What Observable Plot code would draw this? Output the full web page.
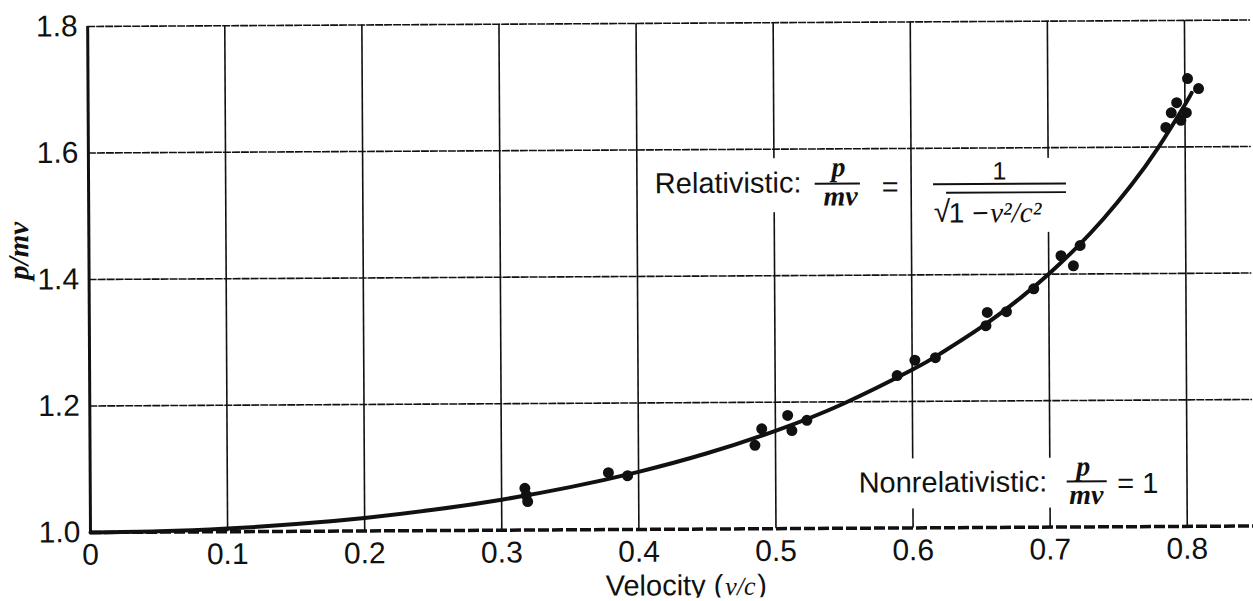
<!DOCTYPE html>
<html>
<head>
<meta charset="utf-8">
<script src="https://cdn.jsdelivr.net/npm/d3@7"></script>
<script src="https://cdn.jsdelivr.net/npm/@observablehq/plot@0.6"></script>
<style>
  html, body { margin: 0; padding: 0; background: #fff; overflow: hidden; }
  #chart svg { display: block; transform: rotate(-0.32deg); transform-origin: 90px 532px; }
</style>
</head>
<body>
<div id="chart"></div>
<script>
// ---- Data ----
// Measured points (velocity v/c, p/mv)
const measuredV = [0.317, 0.318, 0.319, 0.378, 0.392, 0.485, 0.490, 0.509, 0.512, 0.523,
                   0.589, 0.602, 0.617, 0.654, 0.655, 0.669, 0.689, 0.709, 0.718, 0.723,
                   0.786, 0.790, 0.794, 0.797, 0.801, 0.802, 0.810];
const measuredP = [1.066, 1.055, 1.045, 1.090, 1.085, 1.132, 1.158, 1.179, 1.155, 1.171,
                   1.241, 1.265, 1.269, 1.319, 1.340, 1.341, 1.377, 1.429, 1.413, 1.445,
                   1.631, 1.654, 1.670, 1.642, 1.654, 1.708, 1.692];
// Relativistic curve, sampled along the drawn line
const curveV = [0, 0.05, 0.1, 0.15, 0.2, 0.25, 0.3, 0.35, 0.4, 0.45, 0.5, 0.55, 0.6, 0.62,
                0.65, 0.68, 0.7, 0.72, 0.74, 0.76, 0.78, 0.8, 0.805];
const curveP = [1.0, 1.00125, 1.00504, 1.01144, 1.02062, 1.0328, 1.04828, 1.06752, 1.09109,
                1.11979, 1.1547, 1.19737, 1.25, 1.27453, 1.3159, 1.36386, 1.40028, 1.44098,
                1.48675, 1.53864, 1.59801, 1.66667, 1.6855];
// Nonrelativistic value
const nonRelP = [1.0];
// Axis ticks
const xTicks = [0, 0.1, 0.2, 0.3, 0.4, 0.5, 0.6, 0.7, 0.8];
const yTicks = [1.0, 1.2, 1.4, 1.6, 1.8];
const xGrid = [0.1, 0.2, 0.3, 0.4, 0.5, 0.6, 0.7, 0.8];
const yGrid = [1.2, 1.4, 1.6, 1.8];

// ---- Build tables ----
const points = measuredV.map((v, i) => ({v, p: measuredP[i]}));
const curve = curveV.map((v, i) => ({v, p: curveP[i]}));

const XMAX = 0.8483;
const sans = "'Liberation Sans', Arial, sans-serif";
const serif = "'Liberation Serif', 'Times New Roman', serif";

function txt(x, y, t, o = {}) {
  return Plot.text([{x, y, t}], {x: "x", y: "y", text: "t", fill: "#111", fontFamily: sans, fontSize: 29, ...o});
}
function bar(x1, x2, y, w = 2) {
  return Plot.ruleY([{x1, x2, y}], {x1: "x1", x2: "x2", y: "y", stroke: "#111", strokeWidth: w});
}
function box(x1, x2, y1, y2) {
  return Plot.rect([{x1, x2, y1, y2}], {x1: "x1", x2: "x2", y1: "y1", y2: "y2", fill: "#fff"});
}
const it = {fontFamily: serif, fontStyle: "italic", fontWeight: "bold", fontSize: 28};

const chart = Plot.plot({
  width: 1253,
  height: 601,
  marginLeft: 90,
  marginRight: 0,
  marginTop: 26,
  marginBottom: 69,
  style: {fontFamily: sans, fontSize: "30px", background: "#fff", color: "#111"},
  x: {domain: [0, XMAX], ticks: xTicks, tickSize: 0, tickPadding: 11, label: null,
      tickFormat: d => d === 0 ? "0" : d3.format(".1f")(d)},
  y: {domain: [1.0, 1.8], ticks: yTicks, tickSize: 0, tickPadding: 10, label: null,
      tickFormat: d3.format(".1f")},
  marks: [
    Plot.ruleX(xGrid, {y1: 1.0, y2: 1.8, stroke: "#111", strokeWidth: 1.6}),
    Plot.ruleY(yGrid, {x1: 0, x2: XMAX, stroke: "#111", strokeWidth: 1.6, strokeDasharray: "8,1"}),
    // white backgrounds behind the annotations
    box(0.412, 0.569, 1.585, 1.4996),
    box(0.613, 0.718, 1.583, 1.466),
    box(0.558, 0.745, 1.109, 1.030),
    Plot.ruleX([0], {y1: 1.0, y2: 1.8, stroke: "#111", strokeWidth: 3}),
    Plot.ruleY(nonRelP, {x1: 0, x2: XMAX, stroke: "#111", strokeWidth: 3.5, strokeDasharray: "11,3"}),
    Plot.line(curve, {x: "v", y: "p", stroke: "#111", strokeWidth: 4, curve: "natural"}),
    Plot.dot(points, {x: "v", y: "p", r: 5.5, fill: "#111", stroke: "none"}),
    // Relativistic annotation
    txt(0.520, 1.546, "Relativistic:", {textAnchor: "end", lineAnchor: "middle"}),
    bar(0.530, 0.563, 1.545),
    txt(0.547, 1.5565, "p", {...it, lineAnchor: "bottom"}),
    txt(0.5485, 1.5107, "mv", {...it, lineAnchor: "bottom"}),
    txt(0.5846, 1.539, "=", {lineAnchor: "middle"}),
    txt(0.6645, 1.5502, "1", {fontSize: 25, lineAnchor: "bottom"}),
    bar(0.6163, 0.7133, 1.5431),
    bar(0.6258, 0.7133, 1.5296, 1.8),
    txt(0.6163, 1.4838, "\u221A", {fontSize: 30, textAnchor: "start", lineAnchor: "bottom"}),
    txt(0.6273, 1.4825, "1 \u2212", {fontSize: 28, textAnchor: "start", lineAnchor: "bottom"}),
    txt(0.6575, 1.4825, "v\u00B2/c\u00B2", {fontFamily: serif, fontStyle: "italic", fontSize: 29, textAnchor: "start", lineAnchor: "bottom"}),
    // Nonrelativistic annotation
    txt(0.698, 1.0711, "Nonrelativistic:", {textAnchor: "end", lineAnchor: "middle"}),
    bar(0.7126, 0.7418, 1.0719),
    txt(0.7243, 1.0813, "p", {...it, lineAnchor: "bottom"}),
    txt(0.7265, 1.0364, "mv", {...it, lineAnchor: "bottom"}),
    txt(0.749, 1.068, "= 1", {textAnchor: "start", lineAnchor: "middle"}),
    // Axis labels
    Plot.text(["p/mv"], {frameAnchor: "left", dx: -70, rotate: -90, fill: "#111",
      fontFamily: serif, fontStyle: "italic", fontWeight: "bold", fontSize: 29}),
    Plot.text(["Velocity ("], {frameAnchor: "bottom", dx: 51, dy: 66, textAnchor: "end", lineAnchor: "bottom",
      fill: "#111", fontFamily: sans, fontSize: 29}),
    Plot.text(["v/c"], {frameAnchor: "bottom", dx: 53, dy: 66, textAnchor: "start", lineAnchor: "bottom",
      fill: "#111", fontFamily: serif, fontStyle: "italic", fontSize: 26}),
    Plot.text([")"], {frameAnchor: "bottom", dx: 85, dy: 66, textAnchor: "start", lineAnchor: "bottom",
      fill: "#111", fontFamily: sans, fontSize: 29})
  ]
});
document.getElementById("chart").appendChild(chart);
</script>
</body>
</html>
